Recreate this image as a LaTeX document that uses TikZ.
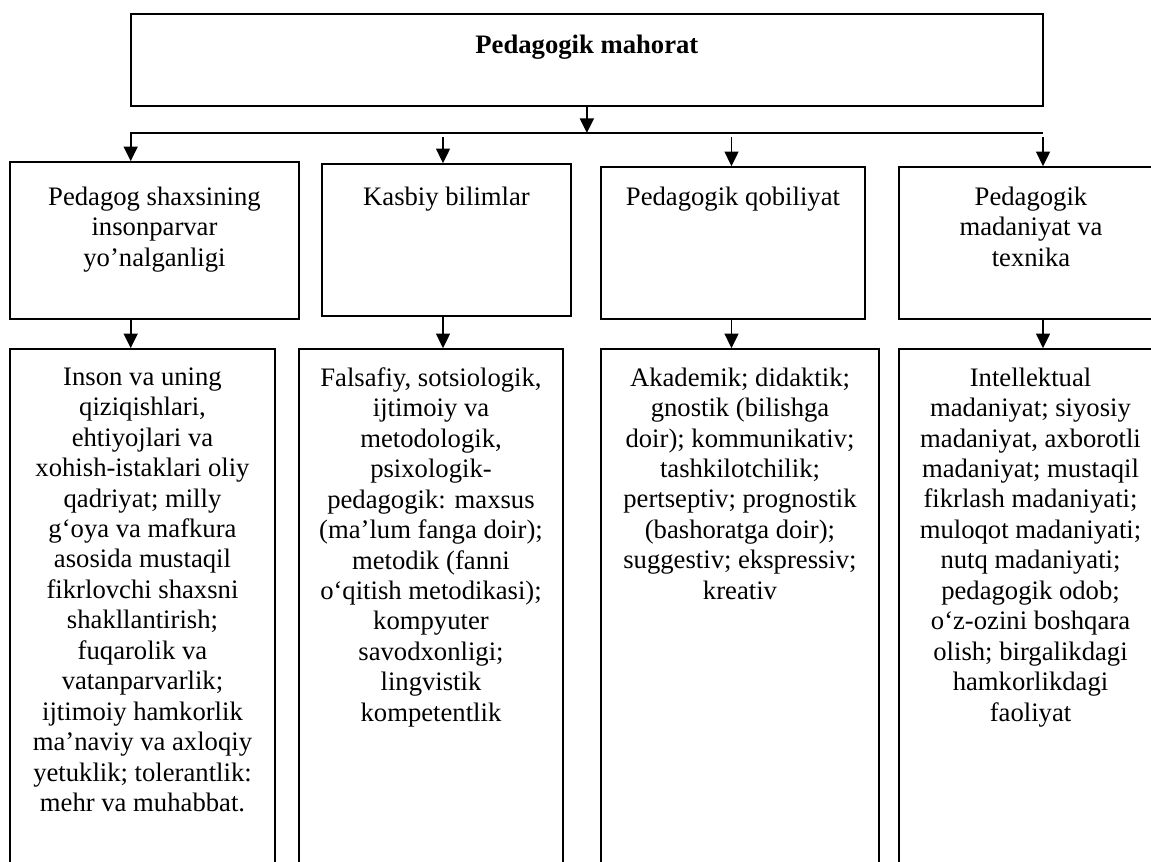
\documentclass[tikz,border=0pt]{standalone}
\usepackage{fontspec}
\setmainfont{Liberation Serif}
\usetikzlibrary{arrows.meta, positioning}

\begin{document}
\begin{tikzpicture}[x=0.45pt, y=-0.45pt, >={Triangle[length=6.6pt, width=6.3pt]},
  box/.style={draw, line width=0.75pt, rectangle, inner sep=0pt},
  txt/.style={align=center, inner sep=0pt, font=\fontsize{12}{13.7}\selectfont},
  link/.style={->, line width=0.75pt}]

  \clip (0,0) rectangle (1151,861);

  % Top box
  \node[box, minimum width=410.5pt, minimum height=41.4pt] (top) at (586.85,60) {};
  \node[txt, font=\fontsize{12}{13.7}\selectfont\bfseries, below=9.45pt of top.north] (title) {Pedagogik mahorat};

  % Second row
  \node[box, minimum width=130.05pt, minimum height=70.65pt] (b1) at (154.5,240.5) {};
  \node[box, minimum width=112.05pt, minimum height=68.4pt] (b2) at (446.5,240) {};
  \node[box, minimum width=118.8pt, minimum height=68.4pt] (b3) at (733,243) {};
  \node[box, minimum width=118.8pt, minimum height=68.4pt] (b4) at (1031,243) {};

  \node[txt, below=11.25pt of b1.north] (humane) {Pedagog shaxsining\\insonparvar\\yo’nalganligi};
  \node[txt, below=10.35pt of b2.north] (knowledge) {Kasbiy bilimlar};
  \node[txt, below=9pt of b3.north] (ability) {Pedagogik qobiliyat};
  \node[txt, below=9pt of b4.north] (culture) {Pedagogik\\madaniyat va\\texnika};

  % Third row, cut off at the bottom
  \node[box, minimum width=119.25pt, minimum height=238.95pt] (c1) at (142.5,614.5) {};
  \node[box, minimum width=118.8pt, minimum height=238.95pt] (c2) at (431,614.5) {};
  \node[box, minimum width=125.1pt, minimum height=238.95pt] (c3) at (740,614.5) {};
  \node[box, minimum width=118.35pt, minimum height=238.95pt] (c4) at (1030.5,614.5) {};

  \node[txt, below=8.55pt of c1.north] (values) {Inson va uning\\qiziqishlari,\\ehtiyojlari va\\xohish-istaklari oliy\\qadriyat; milly\\g‘oya va mafkura\\asosida mustaqil\\fikrlovchi shaxsni\\shakllantirish;\\fuqarolik va\\vatanparvarlik;\\ijtimoiy hamkorlik\\ma’naviy va axloqiy\\yetuklik; tolerantlik:\\mehr va muhabbat.};
  \node[txt, below=8.55pt of c2.north] (fields) {Falsafiy, sotsiologik,\\ijtimoiy va\\metodologik,\\psixologik-\\pedagogik: maxsus\\(ma’lum fanga doir);\\metodik (fanni\\o‘qitish metodikasi);\\kompyuter\\savodxonligi;\\lingvistik\\kompetentlik};
  \node[txt, below=8.55pt of c3.north] (kinds) {Akademik; didaktik;\\gnostik (bilishga\\doir); kommunikativ;\\tashkilotchilik;\\pertseptiv; prognostik\\(bashoratga doir);\\suggestiv; ekspressiv;\\kreativ};
  \node[txt, below=8.55pt of c4.north] (cultures) {Intellektual\\madaniyat; siyosiy\\madaniyat, axborotli\\madaniyat; mustaqil\\fikrlash madaniyati;\\muloqot madaniyati;\\nutq madaniyati;\\pedagogik odob;\\o‘z-ozini boshqara\\olish; birgalikdagi\\hamkorlikdagi\\faoliyat};

  % Bus line under the top box
  \coordinate (bus) at (586.85,133);
  \coordinate (busL) at (130.7,133);
  \coordinate (busR) at (1043,133);
  \coordinate (k2) at (443,137);
  \coordinate (k3) at (731.5,137);
  \coordinate (k4) at (1043,137);

  \draw[link] (top.south) -- (bus);
  \draw[link] (busR) -- (busL) -- (busL |- b1.north);
  \draw[link] (k2) -- (k2 |- b2.north);
  \draw[link] (k3) -- (k3 |- b3.north);
  \draw[link] (k4) -- (k4 |- b4.north);

  % Second row to third row
  \draw[link] (busL |- b1.south) -- (busL |- c1.north);
  \draw[link] (k2 |- b2.south) -- (k2 |- c2.north);
  \draw[link] (k3 |- b3.south) -- (k3 |- c3.north);
  \draw[link] (k4 |- b4.south) -- (k4 |- c4.north);

\end{tikzpicture}
\end{document}
